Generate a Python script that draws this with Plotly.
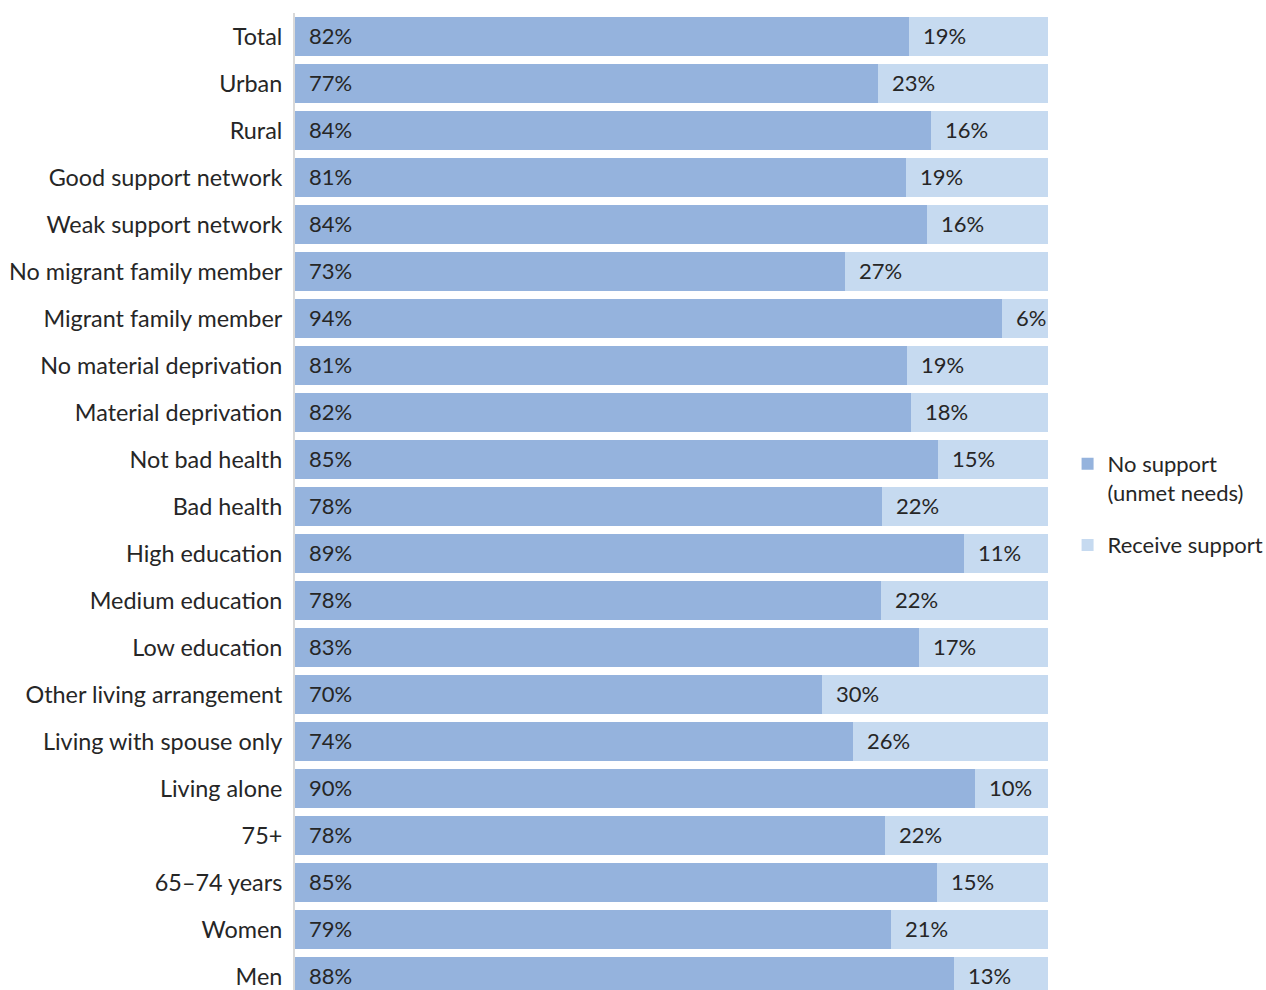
import plotly.graph_objects as go

categories = ["Total", "Urban", "Rural", "Good support network", "Weak support network",
              "No migrant family member", "Migrant family member", "No material deprivation",
              "Material deprivation", "Not bad health", "Bad health", "High education",
              "Medium education", "Low education", "Other living arrangement",
              "Living with spouse only", "Living alone", "75+", "65\u201374 years", "Women", "Men"]

no_support = [81.5, 77.4, 84.5, 81.1, 83.9, 73.0, 93.9, 81.3, 81.8, 85.4, 78.0, 88.8,
              77.8, 82.9, 70.0, 74.1, 90.3, 78.4, 85.3, 79.2, 87.5]
receive_support = [18.5, 22.6, 15.5, 18.9, 16.1, 27.0, 6.1, 18.7, 18.2, 14.6, 22.0, 11.2,
                   22.2, 17.1, 30.0, 25.9, 9.7, 21.6, 14.7, 20.8, 12.5]

no_support_labels = ["82%", "77%", "84%", "81%", "84%", "73%", "94%", "81%", "82%", "85%", "78%",
                     "89%", "78%", "83%", "70%", "74%", "90%", "78%", "85%", "79%", "88%"]
receive_labels = ["19%", "23%", "16%", "19%", "16%", "27%", "6%", "19%", "18%", "15%", "22%",
                  "11%", "22%", "17%", "30%", "26%", "10%", "22%", "15%", "21%", "13%"]

DARK = "#95b3dd"
LIGHT = "#c6daf0"
FONT = "Lato"
TXT = "#262626"

fig = go.Figure()
fig.add_trace(go.Bar(y=categories, x=no_support, orientation="h", marker_color=DARK,
                     marker_line_width=0, name="No support<br>(unmet needs)",
                     legendgroup="a", hoverinfo="skip"))
fig.add_trace(go.Bar(y=categories, x=receive_support, orientation="h", marker_color=LIGHT,
                     marker_line_width=0, name="Receive support",
                     legendgroup="b", hoverinfo="skip"))

annotations = []
for c, v, lab1, lab2 in zip(categories, no_support, no_support_labels, receive_labels):
    annotations.append(dict(x=0, y=c, text=lab1, xanchor="left", xshift=12, yshift=1,
                            showarrow=False, font=dict(family=FONT, size=22, color=TXT)))
    annotations.append(dict(x=v, y=c, text=lab2, xanchor="left", xshift=12, yshift=1,
                            showarrow=False, font=dict(family=FONT, size=22, color=TXT)))

fig.update_layout(
    width=1266, height=990,
    margin=dict(l=295, r=218, t=13, b=0, autoexpand=False),
    barmode="stack", bargap=0.17,
    plot_bgcolor="white", paper_bgcolor="white",
    font=dict(family=FONT, size=22, color=TXT),
    showlegend=True,
    legend=dict(x=1.026, y=0.56, xanchor="left", yanchor="top", valign="top",
                traceorder="grouped", tracegroupgap=21,
                font=dict(family=FONT, size=22, color=TXT)),
    annotations=annotations,
    xaxis=dict(range=[0, 100], showgrid=False, zeroline=False, showticklabels=False,
               showline=False),
    yaxis=dict(range=[20.29, -0.5], showgrid=False, zeroline=False, showline=True,
               linecolor="#d9d9d9", linewidth=2, ticks="", ticklabelstandoff=6,
               tickfont=dict(family=FONT, size=23.4, color=TXT)),
)

fig.write_html("out.html")
